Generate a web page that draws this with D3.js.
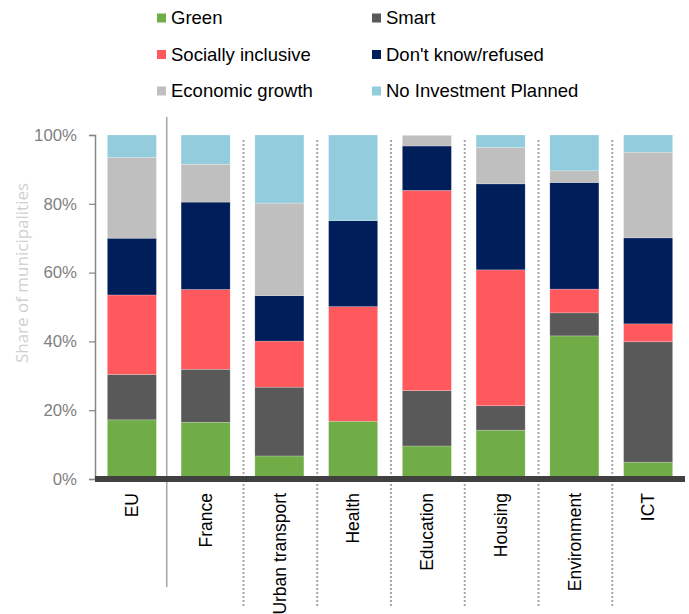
<!DOCTYPE html>
<html>
<head>
<meta charset="utf-8">
<script src="https://cdn.jsdelivr.net/npm/d3@7"></script>
<style>
  html, body { margin: 0; padding: 0; background: #fff; }
  svg { display: block; font-family: "Liberation Sans", Arial, sans-serif; }
</style>
</head>
<body>
<svg id="chart" width="689" height="614"></svg>
<script>
const categories = ["EU", "France", "Urban transport", "Health", "Education", "Housing", "Environment", "ICT"];
const seriesNames = ["Green", "Smart", "Socially inclusive", "Don't know/refused", "Economic growth", "No Investment Planned"];
const green      = [17.2, 16.5,  6.7, 16.8,  9.6, 14.2, 41.6,  4.9];
const smart      = [13.2, 15.4, 20.0,  0.0, 16.1,  7.1,  6.7, 35.0];
const social     = [23.1, 23.2, 13.4, 33.3, 58.2, 39.5,  6.9,  5.2];
const dontKnow   = [16.5, 25.4, 13.2, 25.0, 12.9, 25.0, 31.0, 25.0];
const econGrowth = [23.5, 11.0, 26.9,  0.0,  3.1, 10.6,  3.4, 24.9];
const noInvest   = [ 6.5,  8.5, 19.8, 24.9,  0.0,  3.6, 10.4,  5.0];
const yTicks = [0, 20, 40, 60, 80, 100];
const colors = ["#70ad47", "#595959", "#ff585d", "#001e5a", "#bfbfbf", "#93cddd"];

const seriesValues = [green, smart, social, dontKnow, econGrowth, noInvest];
const rows = categories.map((c, i) => {
  const r = { cat: c };
  seriesNames.forEach((s, k) => r[s] = seriesValues[k][i]);
  return r;
});

const svg = d3.select("#chart");

const x = d3.scaleBand().domain(categories).range([95, 685]).paddingInner(0.335).paddingOuter(0.1675);
const y = d3.scaleLinear().domain([0, 100]).range([479, 135]);

// separators
const gapHalf = (x.step() - x.bandwidth()) / 2;
categories.slice(1).forEach((c, i) => {
  const bx = x(c) - gapHalf;
  if (i === 0) {
    svg.append("line").attr("x1", bx - 2).attr("x2", bx - 2)
      .attr("y1", 117).attr("y2", 587)
      .attr("stroke", "#a6a6a6").attr("stroke-width", 1.5);
  } else {
    svg.append("line").attr("x1", bx + 1).attr("x2", bx + 1)
      .attr("y1", 140).attr("y2", 607)
      .attr("stroke", "#a6a6a6").attr("stroke-width", 2)
      .attr("stroke-dasharray", "2,2");
  }
});

// stacked bars
const stack = d3.stack().keys(seriesNames)(rows);
svg.append("g").selectAll("g").data(stack).join("g")
  .attr("fill", (d, i) => colors[i])
  .selectAll("rect").data(d => d.filter(p => p[1] - p[0] > 0)).join("rect")
  .attr("x", d => x(d.data.cat))
  .attr("width", x.bandwidth())
  .attr("y", d => y(d[1]))
  .attr("height", d => y(d[0]) - y(d[1]))
  .attr("stroke", "rgba(255,255,255,0.35)")
  .attr("stroke-width", 0.6);

// y axis
const yAxis = d3.axisLeft(y).tickValues(yTicks).tickFormat(d => d + "%").tickSize(6).tickPadding(12);
const gy = svg.append("g").attr("transform", "translate(95,0)").call(yAxis);
gy.select(".domain").attr("stroke", "#868686").attr("stroke-width", 1.5);
gy.selectAll(".tick line").attr("stroke", "#868686").attr("stroke-width", 1.2);
gy.selectAll(".tick text").attr("fill", "#7f7f7f").attr("font-size", 16.8)
  .attr("font-family", "Liberation Sans, Arial, sans-serif");

// thick baseline
svg.append("line").attr("x1", 95).attr("x2", 685)
  .attr("y1", y(0)).attr("y2", y(0))
  .attr("stroke", "#404040").attr("stroke-width", 6);

// x labels
const xAxis = d3.axisBottom(x).tickSize(0).tickPadding(0);
const gx = svg.append("g").attr("transform", `translate(0,${y(0)})`).call(xAxis);
gx.select(".domain").remove();
gx.selectAll(".tick text")
  .attr("transform", "rotate(-90)")
  .attr("text-anchor", "end")
  .attr("x", -14).attr("y", 0).attr("dy", "0.35em")
  .attr("fill", "#000").attr("font-size", 17.5)
  .attr("font-family", "Liberation Sans, Arial, sans-serif");

// y title
svg.append("text")
  .attr("transform", `translate(22,273) rotate(-90)`)
  .attr("text-anchor", "middle").attr("dy", "0.35em")
  .attr("fill", "#d0d0d0").attr("font-size", 17)
  .attr("font-family", "Open Sans, sans-serif")
  .text("Share of municipalities");

// legend
const lg = svg.append("g");
seriesNames.forEach((name, i) => {
  const col = i % 2, row = Math.floor(i / 2);
  const lx = col === 0 ? 157 : 372;
  const ly = 18 + row * 36.5;
  lg.append("rect").attr("x", lx).attr("y", ly - 4.5).attr("width", 9).attr("height", 9).attr("fill", colors[i]);
  lg.append("text").attr("x", lx + 14).attr("y", ly).attr("dy", "0.35em")
    .attr("font-size", 18.5).attr("fill", "#000").text(name);
});
</script>
</body>
</html>
